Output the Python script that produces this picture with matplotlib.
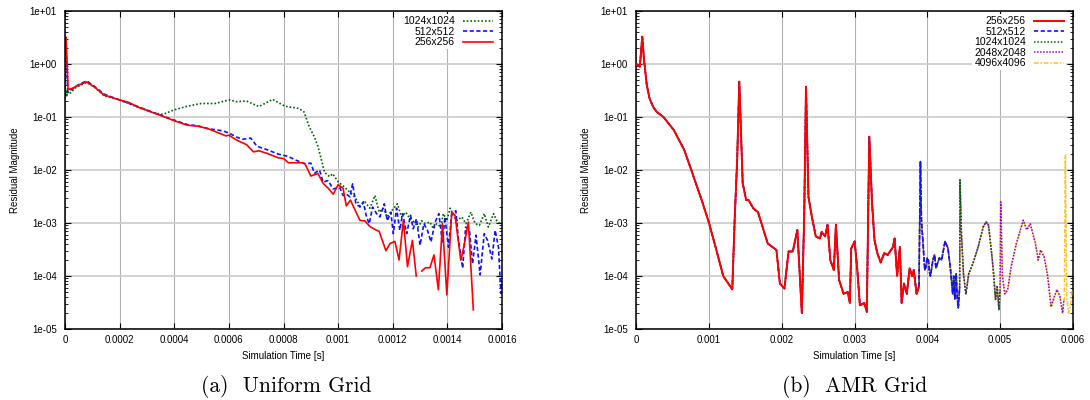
import numpy as np
import matplotlib
matplotlib.use('Agg')
import matplotlib.pyplot as plt
from matplotlib.ticker import FixedLocator, LogLocator, FuncFormatter, NullFormatter

nan = np.nan

# ---- (a) uniform grid --------------------------------------------------
t256_u = [0, 0.000004, 0.0000115, 0.000028, 0.00005, 0.000079, 0.00011, 0.000143, 0.0002, 0.000232,
          0.00027, 0.000346, 0.0004, 0.000448, 0.000487, 0.000525, 0.00055, 0.000589, 0.0006, 0.000627,
          0.000665, 0.00069, 0.00071, 0.000741, 0.00078, 0.0008, 0.000818, 0.000869, 0.000879, 0.0009,
          0.000926, 0.000945, 0.000964, 0.000982, 0.001, 0.001018, 0.00103, 0.001045, 0.00108, 0.001098,
          0.001116, 0.00114, 0.00115, 0.001175, 0.00119, 0.001208, 0.001223, 0.001239, 0.001254, 0.001272,
          0.001286, 0.001296, 0.001306, 0.00132, 0.001336, 0.001351, 0.001367, 0.001382, 0.001398, 0.001416,
          0.001428, 0.001449, 0.001459, 0.001477, 0.001495]
r256_u = [3.2, 3.2, 0.33, 0.35, 0.40, 0.46, 0.36, 0.26, 0.21, 0.19,
          0.152, 0.109, 0.085, 0.07, 0.067, 0.06, 0.053, 0.044, 0.0455, 0.037,
          0.03, 0.022, 0.023, 0.0205, 0.017, 0.0165, 0.0137, 0.0137, 0.013, 0.0077,
          0.0086, 0.0056, 0.0045, 0.0035, 0.0053, 0.0045, 0.0021, 0.0027, 0.00112, 0.0011,
          0.00086, 0.00073, 0.0007, 0.0003, 0.00041, 0.00045, 0.0002, 0.00112, 0.00015, 0.00047,
          0.0001, nan, 0.000124, 0.000143, 0.000143, 0.00025, 0.000055, 0.00097, 0.000044, 0.0016,
          0.0014, 0.0002, 0.00033, 0.00104, 0.000023]

t512_u = [0, 0.000003, 0.00001, 0.000028, 0.00005, 0.00008, 0.00011, 0.000143, 0.0002, 0.00027,
          0.000346, 0.0004, 0.000448, 0.000487, 0.000525, 0.000576, 0.0006, 0.000627, 0.00065, 0.00068,
          0.000703, 0.000741, 0.00078, 0.000818, 0.000843, 0.000881, 0.0009, 0.000913, 0.000932, 0.000945,
          0.000963, 0.000982, 0.001006, 0.001018, 0.001031, 0.001043, 0.001053, 0.001065, 0.00108, 0.001092,
          0.001104, 0.001114, 0.001126, 0.001141, 0.001153, 0.001169, 0.00118, 0.001193, 0.001202, 0.001214,
          0.001226, 0.001236, 0.001251, 0.001265, 0.001275, 0.001287, 0.0013, 0.001314, 0.001327, 0.00134,
          0.001355, 0.001369, 0.001382, 0.001391, 0.001404, 0.001416, 0.001431, 0.00144, 0.001456, 0.001467,
          0.001481, 0.001492, 0.001505, 0.00152, 0.001535, 0.001547, 0.001563, 0.001575, 0.001587, 0.001596,
          0.0016]
r512_u = [0.25, 3.0, 0.30, 0.34, 0.41, 0.48, 0.37, 0.27, 0.21, 0.155,
          0.11, 0.087, 0.072, 0.068, 0.06, 0.055, 0.05, 0.042, 0.038, 0.04,
          0.028, 0.024, 0.02, 0.018, 0.0155, 0.013, 0.0135, 0.0087, 0.01, 0.0059,
          0.0063, 0.0044, 0.0047, 0.0033, 0.0035, 0.0031, 0.0055, 0.0023, 0.002, 0.0025,
          0.0013, 0.00097, 0.002, 0.0015, 0.0013, 0.0023, 0.0011, 0.0016, 0.00063, 0.0019,
          0.00073, 0.0015, 0.00063, 0.0014, 0.00078, 0.0012, 0.00038, 0.00097, 0.00073, 0.00044,
          0.00104, 0.0015, 0.00041, 0.0013, 0.00035, 0.0015, 0.0017, 0.00051, 0.00014, 0.00084,
          0.00073, 0.00017, 0.00059, 0.000105, 0.00063, 0.00047, 0.00021, 0.00073, 0.00035, 0.000047,
          0.000084]

t1024_u = [0, 0.000003, 0.000006, 0.00001, 0.000015, 0.00004, 0.000079, 0.00011, 0.000143, 0.0002,
           0.00027, 0.000334, 0.000359, 0.000397, 0.000448, 0.000499, 0.00055, 0.000576, 0.000601, 0.000627,
           0.000665, 0.00071, 0.00076, 0.000805, 0.000856, 0.000875, 0.000894, 0.000913, 0.000926, 0.000939,
           0.00095, 0.000969, 0.00098, 0.001, 0.001024, 0.001043, 0.001061, 0.00108, 0.001098, 0.001116,
           0.001135, 0.00115, 0.001165, 0.00118, 0.001196, 0.001217, 0.001232, 0.001248, 0.001263, 0.001278,
           0.001294, 0.001306, 0.00132, 0.001336, 0.001349, 0.001361, 0.001376, 0.001385, 0.001398, 0.00141,
           0.001422, 0.001434, 0.001453, 0.001468, 0.001486, 0.001502, 0.001517, 0.001535, 0.00155, 0.001569,
           0.001581, 0.001593, 0.0016]
r1024_u = [0.22, 0.33, 0.24, 0.30, 0.27, 0.36, 0.45, 0.36, 0.25, 0.21,
           0.15, 0.117, 0.112, 0.135, 0.16, 0.18, 0.18, 0.195, 0.21, 0.195,
           0.2, 0.157, 0.215, 0.16, 0.145, 0.125, 0.066, 0.042, 0.028, 0.0155,
           0.009, 0.0075, 0.0085, 0.006, 0.0047, 0.0038, 0.0031, 0.0021, 0.0025, 0.0019,
           0.0033, 0.0016, 0.0019, 0.0013, 0.0017, 0.0023, 0.0013, 0.0016, 0.0012, 0.00104,
           0.00084, 0.0011, 0.00097, 0.00104, 0.00078, 0.00097, 0.00084, 0.0015, 0.0011, 0.0019,
           0.0014, 0.0011, 0.0013, 0.00097, 0.0016, 0.00097, 0.0009, 0.0015, 0.00084, 0.0015,
           0.0011, 0.00097, 0.0009]

# ---- (b) AMR grid: each resolution continues where the coarser one stops
t_amr_256 = [0.000005, 0.0000525, 0.000086, 0.00011, 0.000148, 0.000186, 0.000234, 0.000282, 0.000377, 0.00052,
             0.000663, 0.000759, 0.000902, 0.000998, 0.001093, 0.001198, 0.001322, 0.001356, 0.001389, 0.001418,
             0.001442, 0.001465, 0.001513, 0.001547, 0.001609, 0.001675, 0.001737, 0.001809, 0.001928, 0.001976,
             0.002038, 0.002095, 0.002153, 0.002215, 0.002277, 0.00231, 0.002334, 0.002368, 0.002415, 0.002468,
             0.002525, 0.002549, 0.002597, 0.00263, 0.002668, 0.002716, 0.002745, 0.002788, 0.00285, 0.002907,
             0.002936, 0.002955, 0.003002, 0.003041, 0.003074, 0.003136, 0.003169, 0.003203, 0.003241, 0.003274,
             0.003313, 0.00336, 0.003408, 0.003456, 0.003527, 0.003551, 0.003585, 0.003623, 0.003647, 0.00368,
             0.003718, 0.003757, 0.00379, 0.003814, 0.003852, 0.003885]
r_amr_256 = [1.0, 0.89, 3.28, 1.19, 0.40, 0.225, 0.157, 0.126, 0.1, 0.0565,
             0.0238, 0.01, 0.0027, 0.00105, 0.00035, 0.0001, 0.000056, 0.0013, 0.0154, 0.464,
             0.049, 0.0056, 0.0027, 0.0027, 0.0019, 0.0016, 0.00085, 0.00041, 0.00031, 0.000072,
             0.000058, 0.00029, 0.00029, 0.00074, 0.00002, 0.0015, 0.373, 0.0031, 0.0013, 0.00056,
             0.00051, 0.00068, 0.00056, 0.00093, 0.0002, 0.00013, 0.00093, 0.000085, 0.000046, 0.00005,
             0.000031, 0.00033, 0.00045, 0.00012, 0.000028, 0.000031, 0.000021, 0.0425, 0.0024, 0.00048,
             0.00027, 0.00018, 0.00027, 0.00025, 0.00035, 0.00051, 0.0001, 0.00035, 0.000031, 0.000072,
             0.000046, 0.00014, 0.0001, 0.00013, 0.000046, 0.000063]
t_amr_512 = [0.003905, 0.003919, 0.003947, 0.003965, 0.003981, 0.003998, 0.004014, 0.004028, 0.004043, 0.004076,
             0.0041, 0.004118, 0.004138, 0.004165, 0.004196, 0.004243, 0.004282, 0.004315, 0.004348, 0.004362,
             0.004377, 0.004396, 0.00441, 0.004425, 0.004444]
r_amr_512 = [0.0144, 0.00114, 0.00031, 0.00013, 0.000148, 0.00022, 0.0002, 0.00012, 0.0001, 0.0002,
             0.00025, 0.00014, 0.00017, 0.00022, 0.0002, 0.00045, 0.00034, 0.000148, 0.000046, 0.0001,
             0.000036, 0.00011, 0.00004, 0.000025, 0.000063]
t_amr_1024 = [0.004449, 0.004468, 0.004496, 0.00453, 0.004568, 0.004625, 0.004697, 0.004768, 0.004807, 0.00484,
              0.004888, 0.004912, 0.004936, 0.004959, 0.004983, 0.004998]
r_amr_1024 = [0.0065, 0.00064, 0.00011, 0.000046, 0.00011, 0.00017, 0.00035, 0.00085, 0.00105, 0.00091,
              0.00023, 0.0001, 0.000036, 0.000063, 0.000023, 0.000055]
t_amr_2048 = [0.005007, 0.005031, 0.005064, 0.005103, 0.00515, 0.005222, 0.005317, 0.005365, 0.005413, 0.005484,
              0.005523, 0.005556, 0.005604, 0.005652, 0.005699, 0.005747, 0.00578, 0.005819, 0.005857, 0.005876]
r_amr_2048 = [0.0025, 0.0001, 0.000046, 0.000055, 0.000148, 0.00041, 0.00113, 0.00074, 0.00097, 0.00041,
              0.0002, 0.00031, 0.00023, 0.0001, 0.000026, 0.000042, 0.000055, 0.000042, 0.00002, 0.000036]
t_amr_4096 = [0.005881, 0.005895, 0.005914, 0.005938, 0.005962, 0.005986]
r_amr_4096 = [0.000036, 0.0191, 0.000042, 0.00002, 0.000026, 0.000055]

labels_amr = ['256x256', '512x512', '1024x1024', '2048x2048', '4096x4096']

RED = '#ff0000'
BLUE = '#1010ff'
GREEN = '#006400'
PURPLE = '#9400d3'
ORANGE = '#ffc020'

plt.rcParams['font.family'] = ['Liberation Sans', 'DejaVu Sans']
plt.rcParams['font.size'] = 7

fig = plt.figure(figsize=(10.9, 4.0), dpi=100)
ax1 = fig.add_axes([65/1090, 1-329/400, 437/1090, 318/400])
ax2 = fig.add_axes([636/1090, 1-329/400, 437/1090, 318/400])


def style_axis(ax, xmax, xticks):
    ax.set_yscale('log')
    ax.set_ylim(1e-5, 1e1)
    ax.set_xlim(0, xmax)
    ax.xaxis.set_major_locator(FixedLocator(xticks))
    ax.xaxis.set_major_formatter(FuncFormatter(lambda v, p: '%g' % round(v, 6)))
    ax.yaxis.set_major_locator(FixedLocator([10.0**k for k in range(-5, 2)]))
    ax.yaxis.set_major_formatter(FuncFormatter(lambda v, p: '%.0e' % v))
    ax.yaxis.set_minor_locator(LogLocator(base=10, subs=np.arange(2, 10), numticks=20))
    ax.yaxis.set_minor_formatter(NullFormatter())
    ax.tick_params(which='both', direction='in', top=True, right=True, color='black')
    ax.tick_params(which='major', length=4, width=0.8, labelsize=7)
    ax.tick_params(axis='x', which='major', pad=4)
    ax.tick_params(axis='y', which='major', pad=6)
    ax.tick_params(which='minor', length=2, width=0.6)
    for s in ax.spines.values():
        s.set_linewidth(1.1)
    ax.grid(True, axis='x', color='#b0b0b0', lw=0.8)
    ax.grid(True, axis='y', color='#cfcfcf', lw=1.3)
    ax.set_axisbelow(True)
    ax.set_xlabel('Simulation Time [s]', fontsize=7)
    ax.set_ylabel('Residual Magnitude', fontsize=7)
    ax.xaxis.set_label_coords(0.5, -0.068)
    ax.yaxis.set_label_coords(-0.104, 0.5)


style_axis(ax1, 0.0016, np.arange(0, 0.00161, 0.0002))
style_axis(ax2, 0.006, np.arange(0, 0.00601, 0.001))

# (a)
ax1.plot(t1024_u, r1024_u, color=GREEN, lw=1.2, ls=(0, (1.0, 1.2)), label='1024x1024')
ax1.plot(t512_u, r512_u, color=BLUE, lw=1.2, ls=(0, (2.5, 1.5)), label='512x512')
ax1.plot(t256_u, r256_u, color=RED, lw=1.2, ls='-', label='256x256')
leg1 = ax1.legend(loc='upper right', bbox_to_anchor=(0.985, 0.99), borderaxespad=0, markerfirst=False,
                  frameon=True, fancybox=False, edgecolor='none', facecolor='white', framealpha=1,
                  handlelength=2.9, handletextpad=0.8, labelspacing=0.05, borderpad=0.2, fontsize=7.5)

# (b) finer runs repeat the coarser history, so they sit underneath it
amr_t = [t_amr_256, t_amr_512, t_amr_1024, t_amr_2048, t_amr_4096]
amr_r = [r_amr_256, r_amr_512, r_amr_1024, r_amr_2048, r_amr_4096]
styles = [
    dict(color=RED, lw=1.4, ls='-'),
    dict(color=BLUE, lw=1.2, ls=(0, (2.5, 1.5))),
    dict(color=GREEN, lw=1.1, ls=(0, (1.0, 1.2))),
    dict(color=PURPLE, lw=1.1, ls=(0, (1.0, 1.0))),
    dict(color=ORANGE, lw=1.1, ls=(0, (3.0, 1.2, 1.0, 1.2))),
]
for i in range(len(labels_amr)):
    tt = np.concatenate(amr_t[:i+1])
    rr = np.concatenate(amr_r[:i+1])
    ax2.plot(tt, rr, label=labels_amr[i], zorder=10-i, **styles[i])
leg2 = ax2.legend(loc='upper right', bbox_to_anchor=(0.985, 0.99), borderaxespad=0, markerfirst=False,
                  frameon=True, fancybox=False, edgecolor='none', facecolor='white', framealpha=1,
                  handlelength=2.9, handletextpad=0.8, labelspacing=0.05, borderpad=0.2, fontsize=7.5)
leg2.set_zorder(20)

fig.text(286/1090, 1-387/400, '(a)  Uniform Grid', family='cmr10', fontsize=15.5, ha='center', va='center')
fig.text(855/1090, 1-387/400, '(b)  AMR Grid', family='cmr10', fontsize=15.5, ha='center', va='center')

fig.savefig('out.png', dpi=100)
